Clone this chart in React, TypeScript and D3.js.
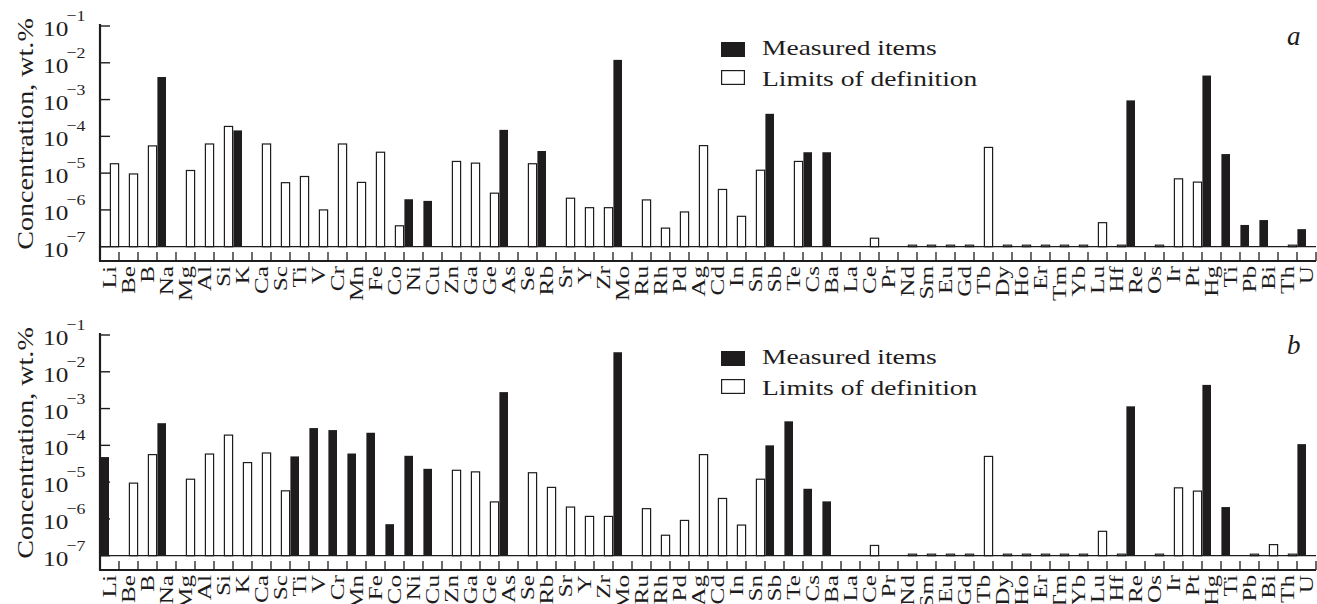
import React from 'react';
import * as d3 from 'd3';

const elements = [
  'Li','Be','B','Na','Mg','Al','Si','K',
  'Ca','Sc','Ti','V','Cr','Mn','Fe','Co',
  'Ni','Cu','Zn','Ga','Ge','As','Se','Rb',
  'Sr','Y','Zr','Mo','Ru','Rh','Pd','Ag',
  'Cd','In','Sn','Sb','Te','Cs','Ba','La',
  'Ce','Pr','Nd','Sm','Eu','Gd','Tb','Dy',
  'Ho','Er','Tm','Yb','Lu','Hf','Re','Os',
  'Ir','Pt','Hg','Ti','Pb','Bi','Th','U',
];

const measuredA = [
  null, null, null, 4.1e-3, null, null, null, 1.45e-4,
  null, null, null, null, null, null, null, null,
  1.95e-6, 1.76e-6, null, null, null, 1.5e-4, null, 4.0e-5,
  null, null, null, 1.2e-2, null, null, null, null,
  null, null, null, 4.1e-4, null, 3.7e-5, 3.7e-5, null,
  null, null, null, null, null, null, null, null,
  null, null, null, null, null, null, 9.5e-4, null,
  null, null, 4.5e-3, 3.3e-5, 3.9e-7, 5.3e-7, null, 3.0e-7,
];

const limitsA = [
  1.8e-5, 9.5e-6, 5.5e-5, null, 1.18e-5, 6.2e-5, 1.86e-4, null,
  6.2e-5, 5.5e-6, 8.1e-6, 1.0e-6, 6.2e-5, 5.6e-6, 3.7e-5, 3.7e-7,
  null, null, 2.08e-5, 1.87e-5, 2.85e-6, null, 1.8e-5, null,
  2.08e-6, 1.15e-6, 1.15e-6, null, 1.87e-6, 3.2e-7, 8.8e-7, 5.6e-5,
  3.6e-6, 6.7e-7, 1.2e-5, null, 2.08e-5, null, null, null,
  1.7e-7, null, 1.1e-7, 1.1e-7, 1.1e-7, 1.1e-7, 5.0e-5, 1.1e-7,
  1.1e-7, 1.1e-7, 1.1e-7, 1.1e-7, 4.5e-7, 1.1e-7, null, 1.1e-7,
  7.0e-6, 5.7e-6, null, null, null, null, 1.1e-7, null,
];

const measuredB = [
  4.8e-5, null, null, 4.0e-4, null, null, null, null,
  null, null, 5.0e-5, 2.95e-4, 2.6e-4, 6.0e-5, 2.2e-4, 7.2e-7,
  5.2e-5, 2.3e-5, null, null, null, 2.8e-3, null, null,
  null, null, null, 3.4e-2, null, null, null, null,
  null, null, null, 1.0e-4, 4.5e-4, 6.6e-6, 3.0e-6, null,
  null, null, null, null, null, null, null, null,
  null, null, null, null, null, null, 1.15e-3, null,
  null, null, 4.4e-3, 2.1e-6, null, null, null, 1.08e-4,
];

const limitsB = [
  null, 9.4e-6, 5.6e-5, null, 1.2e-5, 5.8e-5, 1.9e-4, 3.4e-5,
  6.2e-5, 5.8e-6, null, null, null, null, null, null,
  null, null, 2.1e-5, 1.9e-5, 2.9e-6, null, 1.8e-5, 7.2e-6,
  2.1e-6, 1.17e-6, 1.17e-6, null, 1.9e-6, 3.6e-7, 9.1e-7, 5.6e-5,
  3.6e-6, 6.8e-7, 1.2e-5, null, null, null, null, null,
  1.9e-7, null, 1.1e-7, 1.1e-7, 1.1e-7, 1.1e-7, 5.0e-5, 1.1e-7,
  1.1e-7, 1.1e-7, 1.1e-7, 1.1e-7, 4.6e-7, 1.1e-7, null, 1.1e-7,
  7.0e-6, 5.7e-6, null, null, 1.1e-7, 2.0e-7, 1.1e-7, null,
];

const yTickExponents = [-1, -2, -3, -4, -5, -6, -7];
const legendLabels = ['Measured items', 'Limits of definition'];
const panelLetters = ['a', 'b'];
const yTitle = 'Concentration, wt.%';

const INK = '#1e1c1d';
const FONT = '"Liberation Serif", "Times New Roman", serif';

type Vals = (number | null)[];

function Panel({ top, measured, limits, letter }: { top: number; measured: Vals; limits: Vals; letter: string }) {
  const x = d3.scaleBand<number>().domain(d3.range(elements.length)).range([100, 1316]).paddingInner(0).paddingOuter(0);
  const y = d3.scaleLog().domain([1e-7, 1e-1]).range([246.7, 26]);
  const base = y(1e-7);
  const axisY = 261;
  const bw = x.bandwidth();
  const ticksX = d3.range(elements.length + 1).map((i) => 100 + i * bw);

  return (
    <g transform={`translate(0,${top})`}>
      {measured.map((v, i) =>
        v == null ? null : (
          <rect key={'m' + i} x={(x(i) as number) + 0.4} y={y(v)} width={8.6} height={base - y(v)} fill={INK} />
        )
      )}
      {limits.map((v, i) =>
        v == null ? null : (
          <rect key={'l' + i} x={(x(i) as number) + 10.4} y={y(v)} width={8.2} height={Math.max(base - y(v), 0.5)} fill="#fff" stroke={INK} strokeWidth={1.2} />
        )
      )}
      <line x1={100} x2={1316} y1={base} y2={base} stroke={INK} strokeWidth={1.3} />
      <line x1={99} x2={1316} y1={axisY} y2={axisY} stroke={INK} strokeWidth={2.2} />
      {ticksX.map((tx, i) => (
        <line key={'tx' + i} x1={tx} x2={tx} y1={axisY} y2={axisY - 9} stroke={INK} strokeWidth={1.3} />
      ))}
      <line x1={100} x2={100} y1={24} y2={axisY} stroke={INK} strokeWidth={2.2} />
      {yTickExponents.map((e) => (
        <g key={'ty' + e}>
          <line x1={100} x2={110} y1={y(Math.pow(10, e))} y2={y(Math.pow(10, e))} stroke={INK} strokeWidth={1.4} />
          <g transform={`translate(43,${y(Math.pow(10, e)) + 10}) scale(1.15,1)`}>
            <text x={0} y={0} fontFamily={FONT} fontSize={22} fill={INK}>10</text>
            <text x={20.5} y={-15} fontFamily={FONT} fontSize={15.5} fill={INK}>{'\u2212' + Math.abs(e)}</text>
          </g>
        </g>
      ))}
      <text
        transform={`translate(33,134) rotate(-90) scale(1.17,1)`}
        textAnchor="middle"
        fontFamily={FONT}
        fontSize={24}
        fill={INK}
      >
        {yTitle}
      </text>
      {elements.map((el, i) => (
        <text
          key={'xl' + i}
          transform={`translate(${(x(i) as number) + bw / 2 + 6},266) rotate(-90) scale(1.4,1)`}
          textAnchor="end"
          fontFamily={FONT}
          fontSize={18}
          fill={INK}
        >
          {el}
        </text>
      ))}
      <rect x={721} y={42} width={24} height={15} fill={INK} />
      <rect x={721.6} y={70.6} width={22.8} height={13.8} fill="#fff" stroke={INK} strokeWidth={1.2} />
      <text transform="translate(762,55) scale(1.25,1)" fontFamily={FONT} fontSize={22} fill={INK}>{legendLabels[0]}</text>
      <text transform="translate(762,86) scale(1.25,1)" fontFamily={FONT} fontSize={22} fill={INK}>{legendLabels[1]}</text>
      <text x={1287} y={45} fontFamily={FONT} fontSize={27} fontStyle="italic" fill={INK}>{letter}</text>
    </g>
  );
}

export default function App() {
  return (
    <svg width={1317} height={604} style={{ position: 'absolute', left: 0, top: 0, background: '#fff' }}>
      <rect width={1317} height={604} fill="#fff" />
      <Panel top={0} measured={measuredA} limits={limitsA} letter={panelLetters[0]} />
      <Panel top={309} measured={measuredB} limits={limitsB} letter={panelLetters[1]} />
    </svg>
  );
}
